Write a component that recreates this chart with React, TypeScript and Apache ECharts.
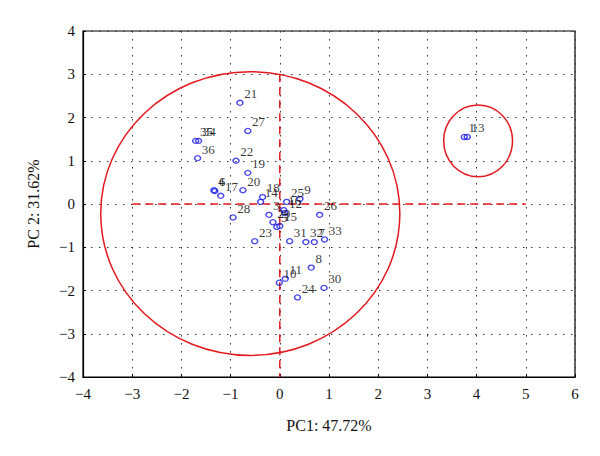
import React, { useEffect, useRef } from "react";
import * as echarts from "echarts";

const ids = ["21","27","35","34","36","22","19","4","6","17","20","18","14","25","9","16","12","3","29","5","15","26","28","23","31","32","7","33","8","11","10","30","24","1","13"];
const pc1 = [-0.81,-0.65,-1.71,-1.65,-1.67,-0.89,-0.65,-1.34,-1.32,-1.2,-0.75,-0.35,-0.39,0.14,0.41,0.08,0.1,-0.22,-0.14,-0.06,0.0,0.81,-0.95,-0.51,0.2,0.53,0.7,0.91,0.64,0.11,-0.01,0.9,0.36,3.75,3.81];
const pc2 = [2.34,1.69,1.46,1.46,1.06,1.0,0.72,0.32,0.3,0.19,0.32,0.16,0.05,0.05,0.12,-0.14,-0.21,-0.25,-0.42,-0.53,-0.51,-0.25,-0.31,-0.86,-0.86,-0.88,-0.88,-0.82,-1.47,-1.73,-1.82,-1.94,-2.16,1.55,1.55];

// ellipses: [centerX, centerY, radiusX, radiusY]
const bigEllipse = [-0.6, -0.22, 3.04, 3.28];
const smallEllipse = [4.03, 1.46, 0.7, 0.83];
const hLine = [[-3, 0], [5, 0]];
const vLine = [[0, 3], [0, -4]];

const xTicks = [-4, 6];
const yTicks = [-4, 4];

const RED = "#e3191e";
const BLUE = "#1a1ae6";
const FONT = "Liberation Serif";

const fmt = (v: number) => String(v).replace("-", "\u2212");

export default function App() {
  const ref = useRef<HTMLDivElement>(null);
  useEffect(() => {
    const chart = echarts.init(ref.current!, null, { renderer: "svg" });
    const pts = pc1.map((x, i) => [x, pc2[i], ids[i]]);
    chart.setOption({
      animation: false,
      backgroundColor: "#fff",
      grid: { left: 83, right: 25, top: 31, bottom: 79, show: true, borderColor: "#000", borderWidth: 1.2, backgroundColor: "transparent" },
      xAxis: {
        type: "value", min: xTicks[0], max: xTicks[1], interval: 1,
        name: "PC1: 47.72%", nameLocation: "middle", nameGap: 40,
        nameTextStyle: { fontFamily: FONT, fontSize: 16, color: "#111" },
        axisLine: { show: true, onZero: false, lineStyle: { color: "#000", width: 1.2 } },
        axisTick: { show: true, inside: true, length: 3, lineStyle: { color: "#000" } },
        axisLabel: { fontFamily: FONT, fontSize: 15, color: "#111", margin: 9, formatter: fmt },
        splitLine: { show: true, lineStyle: { color: "#333", type: [1.5, 6.5], width: 1 } },
      },
      yAxis: {
        type: "value", min: yTicks[0], max: yTicks[1], interval: 1,
        name: "PC 2: 31.62%", nameLocation: "middle", nameGap: 42,
        nameTextStyle: { fontFamily: FONT, fontSize: 16, color: "#111" },
        axisLine: { show: true, onZero: false, lineStyle: { color: "#000", width: 1.2 } },
        axisTick: { show: true, inside: true, length: 3, lineStyle: { color: "#000" } },
        axisLabel: { fontFamily: FONT, fontSize: 15, color: "#111", margin: 8, formatter: fmt },
        splitLine: { show: true, lineStyle: { color: "#333", type: [1.5, 6.5], width: 1 } },
      },
      series: [
        {
          type: "custom",
          coordinateSystem: "cartesian2d",
          clip: false,
          silent: true,
          data: [bigEllipse, smallEllipse],
          encode: { x: 0, y: 1 },
          renderItem: (params: any, api: any) => {
            const c = api.coord([api.value(0), api.value(1)]);
            const s = api.size([api.value(2), api.value(3)]);
            return {
              type: "ellipse",
              shape: { cx: c[0], cy: c[1], rx: s[0], ry: s[1] },
              style: { fill: "none", stroke: RED, lineWidth: 1.5 },
            };
          },
        },
        {
          type: "line", data: hLine, symbol: "none", silent: true,
          lineStyle: { color: RED, width: 1.5, type: [8, 5] },
        },
        {
          type: "line", data: vLine, symbol: "none", silent: true,
          lineStyle: { color: RED, width: 1.5, type: [8, 5] },
        },
        {
          type: "scatter",
          data: pts,
          symbol: "circle",
          symbolSize: [6, 5],
          itemStyle: { color: "rgba(255,255,255,0)", borderColor: BLUE, borderWidth: 1.4 },
          label: {
            show: true, position: [8, -6], align: "left", verticalAlign: "middle",
            formatter: (p: any) => p.data[2],
            fontFamily: FONT, fontSize: 13, color: "#000",
          },
          labelLayout: { hideOverlap: false },
          z: 5,
        },
      ],
    });
    return () => chart.dispose();
  }, []);
  return <div ref={ref} style={{ position: "fixed", left: 0, top: 0, width: 600, height: 456 }} />;
}
